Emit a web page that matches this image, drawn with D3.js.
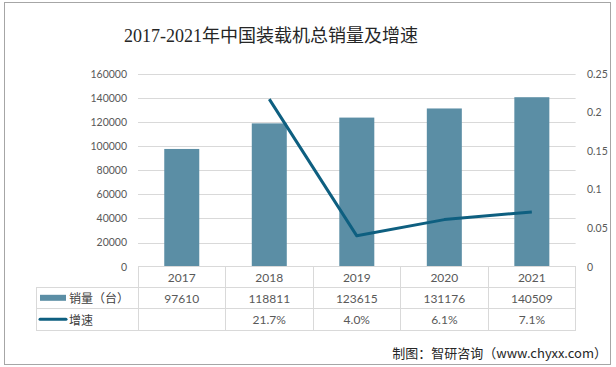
<!DOCTYPE html>
<html><head><meta charset="utf-8">
<script src="https://cdn.jsdelivr.net/npm/d3@7"></script>
<style>
html,body{margin:0;padding:0;background:#fff;}
svg{display:block;}
</style></head>
<body>
<svg id="c" width="616" height="367"></svg>
<script>
const years = ["2017","2018","2019","2020","2021"];
const sales = [97610, 118811, 123615, 131176, 140509];
const growth = [null, 0.217, 0.040, 0.061, 0.071];
const growthLabels = ["", "21.7%", "4.0%", "6.1%", "7.1%"];
const leftTicks = [0,20000,40000,60000,80000,100000,120000,140000,160000];
const rightTicks = [0,0.05,0.1,0.15,0.2,0.25];
const title = "2017-2021年中国装载机总销量及增速";
const seriesNames = ["销量（台）", "增速"];
const source = "制图：智研咨询（www.chyxx.com）";

const barColor = "#5b8ea5", lineColor = "#0e5f80", gridColor = "#d9d9d9", txt = "#595959";
const svg = d3.select("#c");
const L = 138, R = 575.6, T = 73.7, B = 266.7;
const rowY = [266.7, 287.3, 308.3, 330];
const tableLeft = 36;

svg.append("rect").attr("x",4.5).attr("y",2.5).attr("width",606).attr("height",362)
  .attr("fill","#fff").attr("stroke","#a6a6a6").attr("stroke-width",1);

svg.append("text").attr("x",271).attr("y",36).attr("text-anchor","middle")
  .attr("dominant-baseline","central")
  .attr("font-family","'Liberation Serif','DejaVu Serif','Noto Sans CJK SC',serif")
  .attr("font-size",18).attr("fill","#262626").text(title);

const yL = d3.scaleLinear().domain([0,160000]).range([B,T]);
const yR = d3.scaleLinear().domain([0,0.25]).range([B,T]);
const x = d3.scaleBand().domain(years).range([L,R]).paddingInner(0.6).paddingOuter(0.3);
const xc = d3.scaleBand().domain(years).range([L,R]).padding(0);

// gridlines
svg.append("g").selectAll("line").data(leftTicks.filter(d=>d>0)).join("line")
  .attr("x1",L).attr("x2",R).attr("y1",d=>Math.round(yL(d))+0.5).attr("y2",d=>Math.round(yL(d))+0.5)
  .attr("stroke",gridColor).attr("stroke-width",1);

// left axis
const axL = d3.axisLeft(yL).tickValues(leftTicks).tickSize(0).tickPadding(0).tickFormat(d3.format("d"));
const gL = svg.append("g").attr("transform",`translate(127,0)`).call(axL);
gL.select(".domain").remove();
gL.selectAll("text").attr("font-family","Lato,'Liberation Sans',sans-serif").attr("font-size",10.5).attr("fill",txt);

// right axis
const axR = d3.axisRight(yR).tickValues(rightTicks).tickSize(0).tickPadding(0).tickFormat(d=>d===0?"0":String(+d.toFixed(2)));
const gR = svg.append("g").attr("transform",`translate(587,0)`).call(axR);
gR.select(".domain").remove();
gR.selectAll("text").attr("font-family","Lato,'Liberation Sans',sans-serif").attr("font-size",10.5).attr("fill",txt);

// bars
svg.append("g").selectAll("rect").data(sales).join("rect")
  .attr("x",(d,i)=>x(years[i])).attr("width",x.bandwidth())
  .attr("y",d=>yL(d)).attr("height",d=>B-yL(d)).attr("fill",barColor);

// line
const pts = growth.map((g,i)=>({x:x(years[i])+x.bandwidth()/2, g})).filter(p=>p.g!==null);
svg.append("path").datum(pts)
  .attr("d", d3.line().x(p=>p.x).y(p=>yR(p.g)))
  .attr("fill","none").attr("stroke",lineColor).attr("stroke-width",3).attr("stroke-linejoin","round");

// table
const tg = svg.append("g").attr("stroke",gridColor).attr("stroke-width",1).attr("shape-rendering","crispEdges");
tg.append("line").attr("x1",L).attr("x2",R).attr("y1",rowY[0]).attr("y2",rowY[0]);
[1,2,3].forEach(k=>tg.append("line").attr("x1",tableLeft).attr("x2",R).attr("y1",rowY[k]).attr("y2",rowY[k]));
tg.append("line").attr("x1",tableLeft).attr("x2",tableLeft).attr("y1",rowY[1]).attr("y2",rowY[3]);
const bounds = years.map(y=>xc(y)).concat([R]);
bounds.forEach(b=>tg.append("line").attr("x1",b).attr("x2",b).attr("y1",rowY[0]).attr("y2",rowY[3]));

const cellFont = "Lato,'Liberation Sans',sans-serif";
const rows = [years, sales.map(String), growthLabels];
rows.forEach((r,ri)=>{
  svg.append("g").selectAll("text").data(r).join("text")
    .attr("x",(d,i)=>xc(years[i])+xc.bandwidth()/2)
    .attr("y",(rowY[ri]+rowY[ri+1])/2+0.5)
    .attr("text-anchor","middle").attr("dominant-baseline","central")
    .attr("font-family",cellFont).attr("font-size",12).attr("fill",txt).text(d=>d);
});

// legend cells
const ly1 = (rowY[1]+rowY[2])/2, ly2 = (rowY[2]+rowY[3])/2;
svg.append("rect").attr("x",40).attr("y",ly1-3).attr("width",26).attr("height",6).attr("fill",barColor);
svg.append("line").attr("x1",40).attr("x2",66).attr("y1",ly2).attr("y2",ly2)
  .attr("stroke",lineColor).attr("stroke-width",3).attr("stroke-linecap","round");
[ly1, ly2].forEach((yy,k)=>{
  svg.append("text").attr("x",69).attr("y",yy).attr("dominant-baseline","central")
    .attr("font-family","'Noto Sans CJK SC',sans-serif").attr("font-size",12).attr("fill","#404040").text(seriesNames[k]);
});

// source
svg.append("text").attr("x",607).attr("y",352).attr("text-anchor","end").attr("dominant-baseline","central")
  .attr("font-family","'Noto Sans CJK SC',sans-serif").attr("font-size",13).attr("fill","#262626").text(source);
</script>
</body></html>
